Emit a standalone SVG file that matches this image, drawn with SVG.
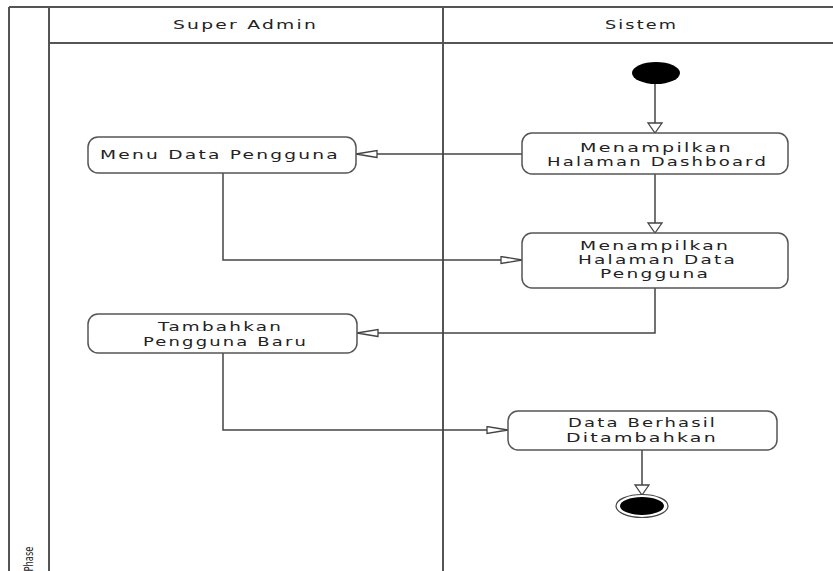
<svg xmlns="http://www.w3.org/2000/svg" width="833" height="571" viewBox="0 0 833 571">
<style>
.frame{stroke:#555;stroke-width:2;fill:none}
.box{fill:#fff;stroke:#555;stroke-width:1.5}
.lbl{font-family:"DejaVu Sans","Liberation Sans",sans-serif;font-size:12.5px;fill:#222;text-anchor:middle;letter-spacing:1.5px}
.edge{stroke:#444;stroke-width:1.5;fill:none}
</style>
<defs>
<marker id="ah" markerUnits="userSpaceOnUse" markerWidth="24" markerHeight="10" refX="22" refY="4.5" orient="auto">
<path d="M1,1 L22,4.5 L1,8 Z" fill="#fff" stroke="#444" stroke-width="1.3"/>
</marker>
<marker id="av" markerUnits="userSpaceOnUse" markerWidth="12" markerHeight="17" refX="11" refY="8" orient="auto">
<path d="M1,1 L11,8 L1,15 Z" fill="#fff" stroke="#444" stroke-width="1.3"/>
</marker>
</defs>
<rect width="833" height="571" fill="#fff"/>
<g id="frame">
<line class="frame" x1="9" y1="7" x2="833" y2="7"/>
<line class="frame" x1="9" y1="7" x2="9" y2="571"/>
<line class="frame" x1="49" y1="7" x2="49" y2="571"/>
<line class="frame" x1="443" y1="7" x2="443" y2="571"/>
<line class="frame" x1="49" y1="43" x2="833" y2="43"/>
<text class="lbl" x="245.5" y="29" textLength="145" lengthAdjust="spacingAndGlyphs">Super Admin</text>
<text class="lbl" x="641.5" y="29" textLength="73" lengthAdjust="spacingAndGlyphs">Sistem</text>
<text class="lbl" transform="translate(33,559) rotate(-90)" textLength="25" lengthAdjust="spacingAndGlyphs" style="font-size:12px;letter-spacing:0">Phase</text>
</g>
<g id="connectors">
<path class="edge" d="M655,84 V133" marker-end="url(#av)"/>
<path class="edge" d="M522,154 H356" marker-end="url(#ah)"/>
<path class="edge" d="M655,174 V233" marker-end="url(#av)"/>
<path class="edge" d="M223,173 V260 H522" marker-end="url(#ah)"/>
<path class="edge" d="M655,288 V333 H357" marker-end="url(#ah)"/>
<path class="edge" d="M223,353 V430 H508" marker-end="url(#ah)"/>
<path class="edge" d="M642,450 V495" marker-end="url(#av)"/>
</g>
<g id="start"><ellipse cx="656" cy="73" rx="24" ry="11" fill="#000"/></g>
<g id="dashboard">
<rect class="box" x="522" y="133" width="266" height="41" rx="10"/>
<text class="lbl" x="656.5" y="152" textLength="153" lengthAdjust="spacingAndGlyphs">Menampilkan</text>
<text class="lbl" x="657.5" y="166" textLength="221" lengthAdjust="spacingAndGlyphs">Halaman Dashboard</text>
</g>
<g id="menu">
<rect class="box" x="88" y="137" width="268" height="36" rx="10"/>
<text class="lbl" x="220" y="159" textLength="240" lengthAdjust="spacingAndGlyphs">Menu Data Pengguna</text>
</g>
<g id="halaman-data">
<rect class="box" x="522" y="233" width="266" height="55" rx="10"/>
<text class="lbl" x="655" y="250" textLength="150" lengthAdjust="spacingAndGlyphs">Menampilkan</text>
<text class="lbl" x="657.5" y="264" textLength="159" lengthAdjust="spacingAndGlyphs">Halaman Data</text>
<text class="lbl" x="655" y="278" textLength="110" lengthAdjust="spacingAndGlyphs">Pengguna</text>
</g>
<g id="tambahkan">
<rect class="box" x="88" y="314" width="269" height="39" rx="10"/>
<text class="lbl" x="220.5" y="331" textLength="125" lengthAdjust="spacingAndGlyphs">Tambahkan</text>
<text class="lbl" x="225.5" y="346" textLength="165" lengthAdjust="spacingAndGlyphs">Pengguna Baru</text>
</g>
<g id="berhasil">
<rect class="box" x="508" y="411" width="269" height="39" rx="10"/>
<text class="lbl" x="642.5" y="427" textLength="149" lengthAdjust="spacingAndGlyphs">Data Berhasil</text>
<text class="lbl" x="642" y="442" textLength="152" lengthAdjust="spacingAndGlyphs">Ditambahkan</text>
</g>
<g id="end">
<ellipse cx="642" cy="506" rx="26" ry="11.5" fill="#fff" stroke="#444" stroke-width="1.2"/>
<ellipse cx="642" cy="506" rx="22" ry="9" fill="#000"/>
</g>
</svg>
